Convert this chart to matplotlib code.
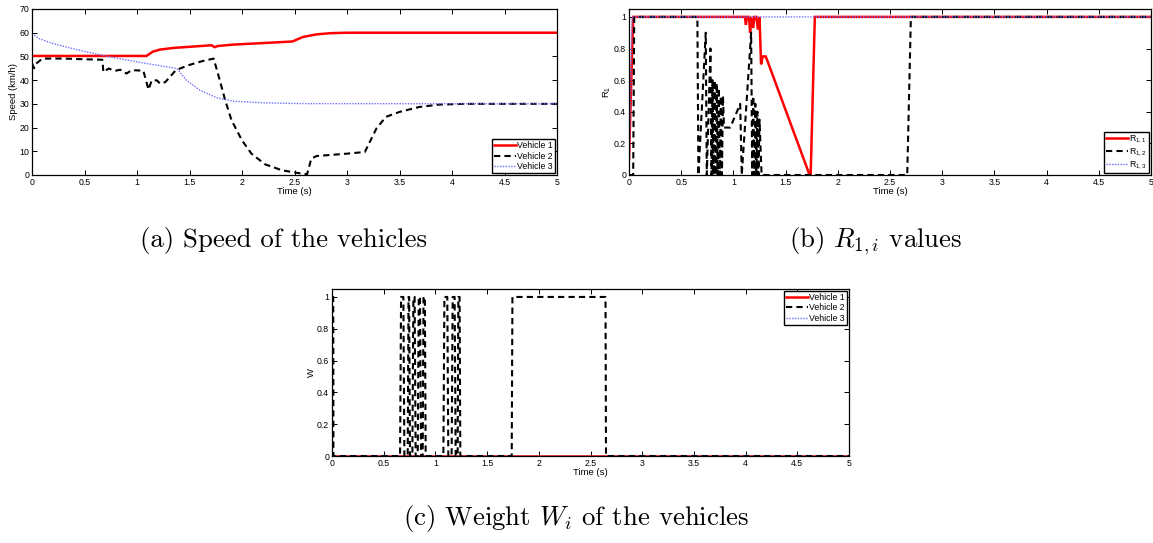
# --- Imports ------------------------------------------------------------------
import matplotlib
matplotlib.use("Agg")
import matplotlib.pyplot as plt
from matplotlib.ticker import FuncFormatter

# --- Data ---------------------------------------------------------------------
# (a) speed of the vehicles (km/h)
t_v1 = [0, 1.09, 1.15, 1.22, 1.35, 1.71, 1.74, 1.77, 1.92, 2.23, 2.48, 2.58, 2.71, 2.84, 3.0, 5]
v1 = [50.2, 50.2, 52.0, 52.9, 53.6, 54.7, 53.9, 54.4, 55.0, 55.7, 56.3, 58.2, 59.3, 59.8, 60.0, 60.0]

t_v2 = [0, 0.02, 0.04, 0.1, 0.3, 0.5, 0.67, 0.68, 0.73, 0.79, 0.84, 0.9, 0.95, 1.06, 1.09,
        1.11, 1.14, 1.19, 1.22, 1.27, 1.37, 1.49, 1.62, 1.73, 1.78, 1.84, 1.9, 2.0, 2.09,
        2.22, 2.38, 2.51, 2.62, 2.66, 2.71, 3.0, 3.17, 3.28, 3.37, 3.5, 3.69, 3.88, 4.13, 5]
v2 = [47, 45, 47, 49.1, 49.1, 48.8, 48.6, 43.4, 44.9, 43.9, 44.4, 42.8, 44.2, 44.0, 39.2,
      36.0, 39.9, 39.9, 38.5, 39.2, 44.2, 46.3, 48.0, 49.1, 41.3, 31.5, 23.1, 14.6, 9.0,
      4.5, 2.0, 1.0, 0.3, 6.9, 8.0, 9.0, 9.7, 19.6, 24.5, 26.6, 28.7, 29.7, 30.0, 30.0]

t_v3 = [0, 0.07, 0.2, 0.49, 0.71, 1.0, 1.38, 1.47, 1.6, 1.76, 1.92, 2.23, 2.6, 5]
v3 = [59.6, 57.5, 55.4, 52.2, 50.1, 47.7, 44.9, 40.0, 35.7, 32.6, 31.1, 30.4, 30.1, 30.0]

# (b) R_{1,i} values
t_r11 = [0, 0.04, 1.11, 1.12, 1.13, 1.15, 1.16, 1.17, 1.19, 1.2, 1.22, 1.235, 1.25, 1.265,
         1.28, 1.31, 1.73, 1.74, 1.78, 5]
r11 = [0.1, 1, 1, 0.95, 1, 1, 0.9, 1, 0.93, 1, 1, 0.92, 1, 0.7,
       0.75, 0.75, 0, 0, 1, 1]

t_r12 = [0, 0.04, 0.05, 0.655, 0.665, 0.735, 0.745, 0.78, 0.79, 0.80, 0.81, 0.82, 0.83,
         0.84, 0.85, 0.86, 0.87, 0.88, 0.89, 0.90, 0.91, 0.97, 1.065, 1.08, 1.17, 1.18,
         1.19, 1.20, 1.21, 1.22, 1.23, 1.24, 1.25, 1.27, 2.665, 2.70, 5]
r12 = [0, 0, 1, 1, 0, 0.9, 0, 0.8, 0, 0.6, 0, 0.6, 0,
       0.58, 0, 0.55, 0, 0.5, 0, 0.5, 0.3, 0.3, 0.45, 0, 0.9, 0,
       0.5, 0, 0.45, 0, 0.4, 0, 0.35, 0, 0, 1, 1]

t_r13 = [0, 0.03, 5]
r13 = [0, 1, 1]

# (c) weight W_i
t_w1 = [0, 5]
w1 = [0, 0]

t_w2 = [0, 0.012, 0.014,
        0.658, 0.668, 0.69, 0.70,
        0.732, 0.740, 0.746, 0.754,
        0.777, 0.787, 0.799, 0.809,
        0.829, 0.839, 0.851, 0.861,
        0.877, 0.885, 0.898, 0.906,
        1.077, 1.087, 1.115, 1.125,
        1.157, 1.167, 1.186, 1.196,
        1.215, 1.222, 1.234, 1.241,
        1.738, 1.745, 2.645, 2.65, 5]
w2 = [1, 1, 0,
      0, 1, 1, 0,
      0, 1, 1, 0,
      0, 1, 1, 0,
      0, 1, 1, 0,
      0, 1, 1, 0,
      0, 1, 1, 0,
      0, 1, 1, 0,
      0, 1, 1, 0,
      0, 1, 1, 0, 0]

t_w3 = [0, 5]
w3 = [0, 0]

vehicle_labels = ["Vehicle 1", "Vehicle 2", "Vehicle 3"]
r_labels = ["R$_{1,1}$", "R$_{1,2}$", "R$_{1,3}$"]

# --- Style --------------------------------------------------------------------
plt.rcParams["font.family"] = ["Liberation Sans", "DejaVu Sans"]
plt.rcParams["mathtext.fontset"] = "custom"
plt.rcParams["mathtext.rm"] = "Liberation Sans"
plt.rcParams["mathtext.it"] = "Liberation Sans:italic"

RED = "#ff0000"
BLACK = "#000000"
BLUE = "#6f6fff"
FS = 6.3

def draw_series(ax, t1, y1, t2, y2, t3, y3, labels):
    ax.plot(t1, y1, color=RED, lw=1.8, solid_joinstyle="miter", label=labels[0])
    ax.plot(t2, y2, color=BLACK, lw=1.5, linestyle=(0, (3, 2)), label=labels[1])
    ax.plot(t3, y3, color=BLUE, lw=1.0, linestyle=(0, (1, 1)), label=labels[2])

def style_axes(ax, ylim, yticks, ylabel):
    ax.set_xlim(0, 5)
    ax.set_ylim(*ylim)
    ax.set_xticks([0, 0.5, 1, 1.5, 2, 2.5, 3, 3.5, 4, 4.5, 5])
    ax.set_yticks(yticks)
    fmt = FuncFormatter(lambda v, p: f"{v:g}")
    ax.xaxis.set_major_formatter(fmt)
    ax.yaxis.set_major_formatter(fmt)
    ax.tick_params(direction="in", length=3.5, width=0.7, labelsize=FS,
                   top=True, right=True, pad=2)
    for s in ax.spines.values():
        s.set_linewidth(0.9)
    ax.set_xlabel("Time (s)", fontsize=FS + 0.5, labelpad=0.5)
    ax.set_ylabel(ylabel, fontsize=FS + 0.5, labelpad=1)

def add_legend(ax, loc):
    leg = ax.legend(loc=loc, fontsize=FS, handlelength=2.6, handletextpad=0.1,
                    borderpad=0.25, labelspacing=0.15, borderaxespad=0.2,
                    fancybox=False, framealpha=1)
    leg.get_frame().set_edgecolor("black")
    leg.get_frame().set_linewidth(1.0)

# --- Figure -------------------------------------------------------------------
W, H = 1153, 543
fig = plt.figure(figsize=(W / 100, H / 100), dpi=100)

def axes_px(left, top, right, bottom):
    return fig.add_axes([left / W, 1 - bottom / H, (right - left) / W, (bottom - top) / H])

ax_a = axes_px(32, 9, 557, 175)
ax_b = axes_px(629, 9, 1151, 175)
ax_c = axes_px(332, 289, 849, 456)

# (a) speed
draw_series(ax_a, t_v1, v1, t_v2, v2, t_v3, v3, vehicle_labels)
style_axes(ax_a, (0, 70), range(0, 71, 10), "Speed (km/h)")
add_legend(ax_a, "lower right")

# (b) R values
draw_series(ax_b, t_r11, r11, t_r12, r12, t_r13, r13, r_labels)
style_axes(ax_b, (0, 1.05), [0, 0.2, 0.4, 0.6, 0.8, 1], "R$_1$")
add_legend(ax_b, "lower right")

# (c) weights
draw_series(ax_c, t_w1, w1, t_w2, w2, t_w3, w3, vehicle_labels)
style_axes(ax_c, (0, 1.05), [0, 0.2, 0.4, 0.6, 0.8, 1], "W")
add_legend(ax_c, "upper right")

# --- Captions -----------------------------------------------------------------
cap = dict(fontsize=19.3, family="cmr10", math_fontfamily="cm", ha="center", va="center")
fig.text(283 / W, 1 - 241 / H, "(a) Speed of the vehicles", **cap)
fig.text(876 / W, 1 - 241 / H, "(b) $R_{1,i}$ values", **cap)
fig.text(576 / W, 1 - 518 / H, "(c) Weight $W_i$ of the vehicles", **cap)

fig.savefig("out.png", dpi=100)
